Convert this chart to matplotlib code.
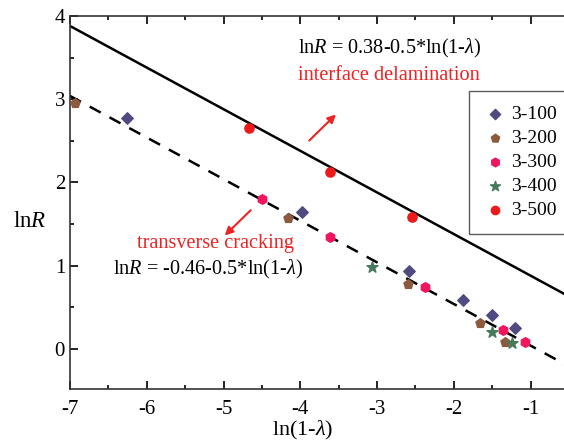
import matplotlib
matplotlib.use("Agg")
import matplotlib.pyplot as plt
import numpy as np
from matplotlib.ticker import MultipleLocator

plt.rcParams["font.family"] = ["Liberation Serif", "DejaVu Serif"]
plt.rcParams["mathtext.fontset"] = "custom"
plt.rcParams["mathtext.rm"] = "Liberation Serif"
plt.rcParams["mathtext.it"] = "Liberation Serif:italic"
plt.rcParams["axes.unicode_minus"] = False

# measured ln(1-lambda) vs lnR for each specimen group
x_100 = [-6.26, -3.98, -2.59, -1.88, -1.51, -1.21]
y_100 = [2.78, 1.64, 0.94, 0.59, 0.41, 0.25]
x_200 = [-6.93, -4.16, -2.60, -1.66, -1.34]
y_200 = [2.96, 1.57, 0.78, 0.31, 0.08]
x_300 = [-4.50, -3.61, -2.38, -1.36, -1.08]
y_300 = [1.80, 1.35, 0.74, 0.23, 0.08]
x_400 = [-3.07, -1.51, -1.24]
y_400 = [0.98, 0.20, 0.07]
x_500 = [-4.67, -3.61, -2.55]
y_500 = [2.66, 2.13, 1.59]

# fitted boundaries lnR = a - 0.5*ln(1-lambda)
a_delam = 0.38
a_crack = -0.46
slope = -0.5

fig = plt.figure(figsize=(5.64, 4.43), dpi=100)
ax = fig.add_axes([0.124, 0.122, 0.885, 0.842])

xs = np.array([-7.0, -0.5])
ax.plot(xs, a_delam + slope * xs, color="black", lw=1.8)
ax.plot(xs, a_crack + slope * xs, color="black", lw=1.8, ls=(0, (5, 4)))

ax.scatter(x_100, y_100, marker="D", s=34, color="#4f4a80", label="3-100", zorder=3)
ax.scatter(x_200, y_200, marker="p", s=48, color="#8c5a3e", label="3-200", zorder=3)
ax.scatter(x_300, y_300, marker="h", s=48, color="#f0155c", label="3-300", zorder=3)
ax.scatter(x_400, y_400, marker="*", s=70, color="#467a5a", label="3-400", zorder=3)
ax.scatter(x_500, y_500, marker="o", s=44, color="#ee1a1a", label="3-500", zorder=3)

ax.set_xlim(-7, -0.5)
ax.set_ylim(-0.48, 4)
ax.xaxis.set_major_locator(MultipleLocator(1))
ax.xaxis.set_minor_locator(MultipleLocator(0.5))
ax.yaxis.set_major_locator(MultipleLocator(1))
ax.yaxis.set_minor_locator(MultipleLocator(0.5))
ax.tick_params(which="both", direction="in", top=True, right=False,
               labelsize=15, width=1.2)
ax.tick_params(which="major", length=6)
ax.tick_params(which="minor", length=3)
ax.tick_params(axis="x", pad=8)
ax.spines["right"].set_visible(False)
for sp in ("left", "bottom", "top"):
    ax.spines[sp].set_linewidth(1.2)
    ax.spines[sp].set_color("#333333")

ax.set_xlabel(r"ln(1-$\mathit{\lambda}$)", fontsize=16)
ax.xaxis.set_label_coords(0.467, -0.080)
ax.set_ylabel(r"ln$\mathit{R}$", fontsize=16.5, rotation=0, va="center")
ax.yaxis.set_label_coords(-0.080, 0.448)

ax.text(-4.03, 3.61, r"ln$\mathit{R}$ = 0.38-0.5*ln(1-$\mathit{\lambda}$)",
        fontsize=14.6, va="center", ha="left")
ax.text(-4.03, 3.28, "interface delamination", fontsize=14.6, color="#ee2222",
        va="center", ha="left")
ax.text(-6.13, 1.27, "transverse cracking", fontsize=14.6, color="#ee2222",
        va="center", ha="left")
ax.text(-6.44, 0.96, r"ln$\mathit{R}$ = -0.46-0.5*ln(1-$\mathit{\lambda}$)",
        fontsize=14.6, va="center", ha="left")

arrow = dict(arrowstyle="-|>", color="#ee2222", lw=1.5, mutation_scale=12)
ax.annotate("", xy=(-3.51, 2.84), xytext=(-3.91, 2.48), arrowprops=arrow)
ax.annotate("", xy=(-5.01, 1.34), xytext=(-4.62, 1.69), arrowprops=arrow)

leg = ax.legend(loc="upper left", bbox_to_anchor=(0.80, 0.799), fontsize=14,
                frameon=True, fancybox=False, edgecolor="#333333",
                handletextpad=0.2, borderpad=0.75, borderaxespad=0,
                labelspacing=0.33, handlelength=1.2, markerscale=0.9)
leg.get_frame().set_linewidth(1.0)

fig.savefig("out.png", dpi=100)
